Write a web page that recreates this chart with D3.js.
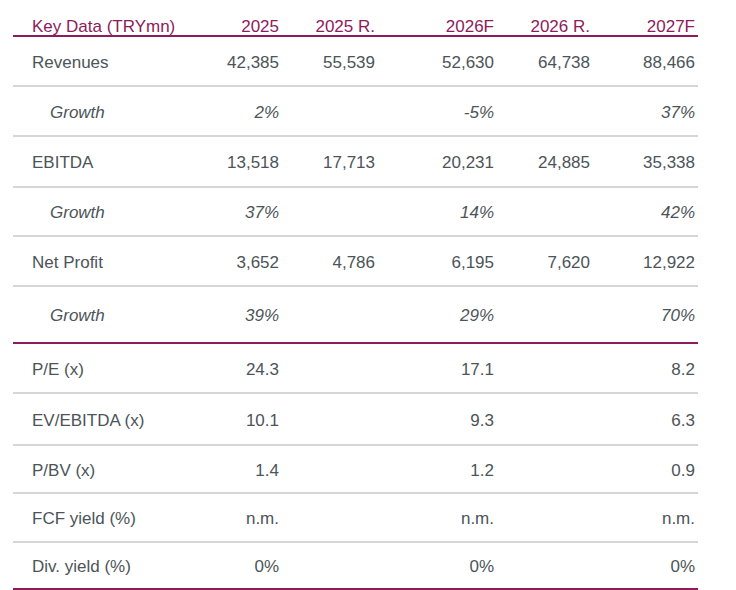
<!DOCTYPE html>
<html>
<head>
<meta charset="utf-8">
<title>Key Data (TRYmn)</title>
<script src="https://unpkg.com/d3@7/dist/d3.min.js"></script>
<style>
body { margin: 0; background: #fff; }
text { font-family: "Liberation Sans", Arial, sans-serif; font-size: 17px; }
.head { fill: #8c1c5c; }
.cell { fill: #4c5459; }
.growth { font-style: italic; }
</style>
</head>
<body>
<div id="chart"></div>
<script>
// table content
const headerLabel = "Key Data (TRYmn)";
const columns = ["2025", "2025 R.", "2026F", "2026 R.", "2027F"];
const rowLabels = ["Revenues", "Growth", "EBITDA", "Growth", "Net Profit", "Growth",
                   "P/E (x)", "EV/EBITDA (x)", "P/BV (x)", "FCF yield (%)", "Div. yield (%)"];
const revenues  = ["42,385", "55,539", "52,630", "64,738", "88,466"];
const revGrowth = ["2%", "", "-5%", "", "37%"];
const ebitda    = ["13,518", "17,713", "20,231", "24,885", "35,338"];
const ebGrowth  = ["37%", "", "14%", "", "42%"];
const netProfit = ["3,652", "4,786", "6,195", "7,620", "12,922"];
const npGrowth  = ["39%", "", "29%", "", "70%"];
const pe        = ["24.3", "", "17.1", "", "8.2"];
const evEbitda  = ["10.1", "", "9.3", "", "6.3"];
const pbv       = ["1.4", "", "1.2", "", "0.9"];
const fcfYield  = ["n.m.", "", "n.m.", "", "n.m."];
const divYield  = ["0%", "", "0%", "", "0%"];

const rowValues = [revenues, revGrowth, ebitda, ebGrowth, netProfit, npGrowth,
                   pe, evEbitda, pbv, fcfYield, divYield];

// layout
const width = 736, height = 590;
const left = 13, right = 698;
const headerLine = 36;
const rowH = [50, 50, 51, 49, 50, 57, 50, 52, 48, 49, 47];
const colRight = [279, 375, 494, 590, 695];
const maroon = "#8c1c5c", grey = "#c8c8c8";

// row boundaries from cumulative heights
const bounds = [headerLine];
rowH.forEach(h => bounds.push(bounds[bounds.length - 1] + h));
const rowTop = d3.scaleOrdinal().domain(d3.range(rowLabels.length)).range(bounds.slice(0, -1));
const rowMid = i => rowTop(i) + rowH[i] / 2;

const x = d3.scaleOrdinal().domain(columns).range(colRight);

const svg = d3.select("#chart").append("svg")
    .attr("width", width)
    .attr("height", height);

// header
const head = svg.append("g");
head.append("text")
    .attr("class", "head")
    .attr("x", 32)
    .attr("y", 32)
    .text(headerLabel);
head.selectAll("text.col")
    .data(columns)
  .join("text")
    .attr("class", "head col")
    .attr("x", d => x(d))
    .attr("y", 32)
    .attr("text-anchor", "end")
    .text(d => d);

// separator lines (below header and below each row)
const lineData = bounds.map((y, i) => {
    const maroonLine = i === 0 || i === 6 || i === bounds.length - 1;
    return {y: y, color: maroonLine ? maroon : grey, w: maroonLine ? 2 : 1.6};
});
svg.append("g").selectAll("line")
    .data(lineData)
  .join("line")
    .attr("x1", left)
    .attr("x2", right)
    .attr("y1", d => d.y)
    .attr("y2", d => d.y)
    .attr("stroke", d => d.color)
    .attr("stroke-width", d => d.w);

// body rows
const rows = svg.append("g").selectAll("g")
    .data(rowLabels.map((label, i) => ({label, i, values: rowValues[i]})))
  .join("g")
    .attr("class", d => d.label === "Growth" ? "growth" : null)
    .attr("transform", d => `translate(0,${rowMid(d.i) + 6.5})`);

rows.append("text")
    .attr("class", "cell")
    .attr("x", d => d.label === "Growth" ? 50 : 32)
    .text(d => d.label);

rows.selectAll("text.val")
    .data(d => d.values.map((v, j) => ({v, col: columns[j]})))
  .join("text")
    .attr("class", "cell val")
    .attr("x", d => x(d.col))
    .attr("text-anchor", "end")
    .text(d => d.v);
</script>
</body>
</html>
